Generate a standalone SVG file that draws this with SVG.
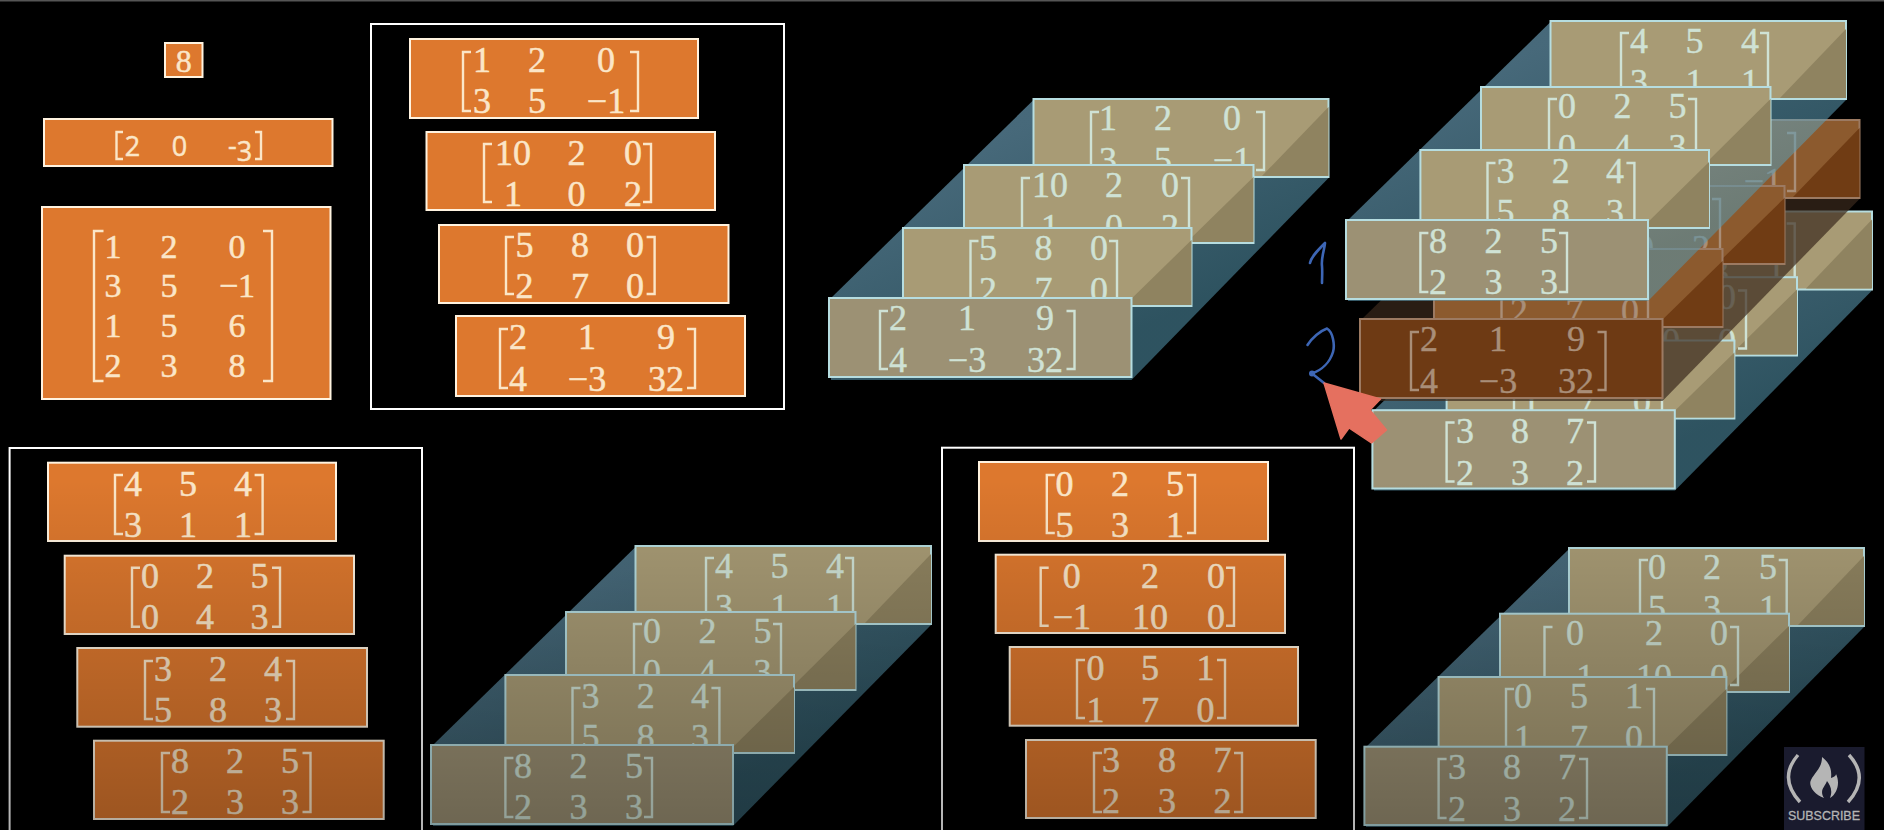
<svg xmlns="http://www.w3.org/2000/svg" xmlns:xlink="http://www.w3.org/1999/xlink" width="1884" height="830" viewBox="0 0 1884 830">
<style>
text{font-family:"Liberation Serif","DejaVu Serif",serif;font-size:36px;text-anchor:middle}
.o rect{fill:#dd782e;stroke:#fff3e0;stroke-width:2}
.o text{fill:#fbe6c8;stroke:#fbe6c8;stroke-width:.5}
.o path{fill:none;stroke:#fbe6c8;stroke-width:2.4}
.frame{fill:none;stroke:#fff;stroke-width:2}
.floor{fill:var(--poly,url(#teal));fill-opacity:var(--po,.55)}
.lit{fill:var(--lit,#a89b75);stroke:var(--st,#b6dde0);stroke-width:2}
.front{fill:var(--front,#9c9174);stroke:var(--st,#b6dde0);stroke-width:2}
.dk{fill:var(--dk,#8f8360)}
.s text{fill:var(--tx,#cfe2d5);stroke:var(--tx,#cfe2d5);stroke-width:.4}
.s path{fill:none;stroke:var(--tx,#cfe2d5);stroke-width:2.4}
.brown{--lit:#8c5a2e;--front:#6e3a14;--dk:#703c14;--st:#9c7a62;--tx:#a98e78;--poly:#3a2a1c;--po:.7}
.hand{fill:none;stroke:#3d66b5;stroke-width:2.6;stroke-linecap:round;stroke-linejoin:round}
.old{font-family:"Open Sans","Liberation Sans",sans-serif;font-size:27px}
.tight{font-size:34px}
</style>
<defs>
<linearGradient id="teal" x1=".25" y1=".2" x2=".7" y2=".75"><stop offset="0" stop-color="#81bfde"/><stop offset="1" stop-color="#5497af"/></linearGradient>
<linearGradient id="shade" gradientUnits="userSpaceOnUse" x1="0" y1="480" x2="0" y2="830"><stop offset="0" stop-color="#000" stop-opacity="0"/><stop offset="1" stop-color="#000" stop-opacity=".3"/></linearGradient>
<g id="stackA" class="s">
<polygon class="floor" points="831,298 1033.5,100 1328.5,178 1131.5,380 831,380"/>
<rect class="lit" x="1033.5" y="99" width="295" height="78"/><polygon class="dk" points="1328.5,107 1328.5,176 1262,176"/>
<path d="M1099,112H1091V170H1099M1256,112H1264V170H1256"/>
<text x="1108" y="130">1</text><text x="1163" y="130">2</text><text x="1232" y="130">0</text><text x="1108" y="172">3</text><text x="1163" y="172">5</text><text x="1232" y="172">−1</text>
<rect class="lit" x="964" y="165" width="289.5" height="78"/><polygon class="dk" points="1253.5,177 1253.5,242 1187,242"/>
<path d="M1030,178H1022V238H1030M1181,178H1189V238H1181"/>
<text x="1050" y="197">10</text><text x="1114" y="197">2</text><text x="1170" y="197">0</text><text x="1050" y="239">1</text><text x="1114" y="239">0</text><text x="1170" y="239">2</text>
<rect class="lit" x="903" y="228" width="288.5" height="78"/><polygon class="dk" points="1191.5,240 1191.5,305 1125,305"/>
<path d="M978.5,241H970.5V300H978.5M1109,241H1117V300H1109"/>
<text x="988" y="260">5</text><text x="1043.5" y="260">8</text><text x="1099" y="260">0</text><text x="988" y="302">2</text><text x="1043.5" y="302">7</text><text x="1099" y="302">0</text>
<rect class="front" x="829" y="298" width="302.5" height="79"/>
<path d="M888,311H880V369H888M1066.5,311H1074.5V369H1066.5"/>
<text x="898" y="330">2</text><text x="967" y="330">1</text><text x="1045" y="330">9</text><text x="898" y="372">4</text><text x="967" y="372">−3</text><text x="1045" y="372">32</text>
</g>
<g id="stackB" class="s">
<polygon class="floor" points="433,745 635.5,547 931,625 733,826 433,826"/>
<rect class="lit" x="635.5" y="546" width="295.5" height="78"/><polygon class="dk" points="931,554 931,623 865,623"/>
<path d="M714,558H706V617H714M845,558H853V617H845"/>
<text x="724" y="578">4</text><text x="779.4" y="578">5</text><text x="835" y="578">4</text><text x="724" y="619">3</text><text x="779.4" y="619">1</text><text x="835" y="619">1</text>
<rect class="lit" x="566" y="612" width="289.5" height="78"/><polygon class="dk" points="855.5,624 855.5,689 790,689"/>
<path d="M642,624H634V683H642M773,624H781V683H773"/>
<text x="652" y="643">0</text><text x="707.4" y="643">2</text><text x="762.6" y="643">5</text><text x="652" y="684">0</text><text x="707.4" y="684">4</text><text x="762.6" y="684">3</text>
<rect class="lit" x="505.4" y="675" width="288.6" height="78"/><polygon class="dk" points="794,687 794,752 728,752"/>
<path d="M580.5,688H572.5V747H580.5M711.4,688H719.4V747H711.4"/>
<text x="590.5" y="707.7">3</text><text x="645.7" y="707.7">2</text><text x="700" y="707.7">4</text><text x="590.5" y="749">5</text><text x="645.7" y="749">8</text><text x="700" y="749">3</text>
<rect class="front" x="431" y="745" width="302" height="79"/>
<path d="M513.4,758H505.4V817H513.4M644,758H652V817H644"/>
<text x="523" y="778">8</text><text x="578.5" y="778">2</text><text x="634" y="778">5</text><text x="523" y="819">2</text><text x="578.5" y="819">3</text><text x="634" y="819">3</text>
</g>
<g id="stackC" class="s">
<polygon class="floor" points="1366,747 1569,549 1864,627 1667,827 1366,827"/>
<rect class="lit" x="1569" y="548" width="295" height="78"/><polygon class="dk" points="1864,556 1864,625 1798,625"/>
<path d="M1648,560H1640V619H1648M1778.7,560H1786.7V619H1778.7"/>
<text x="1657" y="579">0</text><text x="1712" y="579">2</text><text x="1768" y="579">5</text><text x="1657" y="620">5</text><text x="1712" y="620">3</text><text x="1768" y="620">1</text>
<rect class="lit" x="1500" y="613.7" width="289" height="78.3"/><polygon class="dk" points="1789,626 1789,691 1723,691"/>
<path d="M1552.5,627H1544.5V685H1552.5M1730,627H1738V685H1730"/>
<text x="1575" y="645">0</text><text x="1654" y="645">2</text><text x="1719" y="645">0</text><text x="1575" y="689">−1</text><text x="1654" y="689">10</text><text x="1719" y="689">0</text>
<rect class="lit" x="1438.6" y="677" width="287.8" height="78"/><polygon class="dk" points="1726.4,689 1726.4,754 1660,754"/>
<path d="M1514,689H1506V748H1514M1646,689H1654V748H1646"/>
<text x="1523" y="708">0</text><text x="1579" y="708">5</text><text x="1634" y="708">1</text><text x="1523" y="750">1</text><text x="1579" y="750">7</text><text x="1634" y="750">0</text>
<rect class="front" x="1364.4" y="746.7" width="302.4" height="78.3"/>
<path d="M1446.6,759H1438.6V818H1446.6M1579,759H1587V818H1579"/>
<text x="1457" y="779">3</text><text x="1512" y="779">8</text><text x="1567" y="779">7</text><text x="1457" y="821">2</text><text x="1512" y="821">3</text><text x="1567" y="821">2</text>
</g>
</defs>
<rect width="1884" height="830" fill="#000"/>
<rect width="1884" height="1.5" fill="#555"/>

<g id="scalar" class="o"><rect x="165" y="43" width="37.5" height="34"/><text x="183.7" y="71.5" style="font-size:32px">8</text></g>
<g id="vector" class="o"><rect x="44" y="119" width="288.5" height="47"/>
<path d="M123,132H116.5V159H123M255,159H261V132H255"/>
<text class="old" x="132.6" y="156">2</text><text class="old" x="179.6" y="156">0</text><text class="old" x="240" y="155">-<tspan dy="6">3</tspan></text></g>
<g id="matrix" class="o"><rect x="42" y="207" width="288.5" height="192"/>
<path d="M103.5,231H94V381H103.5M263,231H272V381H263"/>
<text class="tight" x="113" y="258">1</text><text class="tight" x="169" y="258">2</text><text class="tight" x="237" y="258">0</text>
<text class="tight" x="113" y="297">3</text><text class="tight" x="169" y="297">5</text><text class="tight" x="237" y="297">−1</text>
<text class="tight" x="113" y="337">1</text><text class="tight" x="169" y="337">5</text><text class="tight" x="237" y="337">6</text>
<text class="tight" x="113" y="377">2</text><text class="tight" x="169" y="377">3</text><text class="tight" x="237" y="377">8</text></g>

<g id="tensor-1" class="o"><rect class="frame" style="fill:none;stroke:#fff" x="371" y="24" width="413" height="385"/>
<rect x="410" y="39" width="288" height="79"/><path d="M471,52H463V111H471M630,52H638V111H630"/>
<text x="482" y="72">1</text><text x="537" y="72">2</text><text x="606" y="72">0</text><text x="482" y="113">3</text><text x="537" y="113">5</text><text x="606" y="113">−1</text>
<rect x="426.5" y="132" width="288.5" height="78"/><path d="M492,144H484V202H492M643,144H651V202H643"/>
<text x="513" y="165">10</text><text x="576.5" y="165">2</text><text x="633" y="165">0</text><text x="513" y="206">1</text><text x="576.5" y="206">0</text><text x="633" y="206">2</text>
<rect x="439" y="225" width="289.5" height="78"/><path d="M514,237H506V294H514M646.6,237H654.6V294H646.6"/>
<text x="524.5" y="257">5</text><text x="580" y="257">8</text><text x="635" y="257">0</text><text x="524.5" y="298">2</text><text x="580" y="298">7</text><text x="635" y="298">0</text>
<rect x="456" y="316" width="289" height="80"/><path d="M508,329H500V388H508M687,329H695V388H687"/>
<text x="518" y="349">2</text><text x="587" y="349">1</text><text x="666" y="349">9</text><text x="518" y="391">4</text><text x="587" y="391">−3</text><text x="666" y="391">32</text>
</g>

<g id="tensor-1-stack"><use href="#stackA" xlink:href="#stackA"/></g>

<g id="combined-stack">
<use href="#stackC" xlink:href="#stackC" transform="translate(8,-336.5)"/>
<use class="brown" href="#stackA" xlink:href="#stackA" transform="translate(531,21)"/>
<use href="#stackB" xlink:href="#stackB" transform="translate(915,-525)"/>
</g>

<g id="tensor-2" class="o"><rect class="frame" style="fill:none;stroke:#fff" x="9.6" y="448" width="412.4" height="400"/>
<rect x="48" y="462.7" width="288" height="78.3"/><path d="M123,475H115V534H123M254.6,475H262.6V534H254.6"/>
<text x="133" y="495.7">4</text><text x="188" y="495.7">5</text><text x="243" y="495.7">4</text><text x="133" y="536.7">3</text><text x="188" y="536.7">1</text><text x="243" y="536.7">1</text>
<rect x="64.7" y="555.7" width="289.3" height="78.3"/><path d="M140,567.7H132V626.7H140M272,567.7H280V626.7H272"/>
<text x="150" y="588">0</text><text x="205" y="588">2</text><text x="259.6" y="588">5</text><text x="150" y="629">0</text><text x="205" y="629">4</text><text x="259.6" y="629">3</text>
<rect x="77.3" y="648" width="289.7" height="78.7"/><path d="M153,661H145V719H153M286,661H294V719H286"/>
<text x="163" y="681">3</text><text x="218" y="681">2</text><text x="273" y="681">4</text><text x="163" y="722">5</text><text x="218" y="722">8</text><text x="273" y="722">3</text>
<rect x="94" y="740.7" width="289.7" height="78.3"/><path d="M170,753H162V812H170M302.5,753H310.5V812H302.5"/>
<text x="180" y="773">8</text><text x="235" y="773">2</text><text x="290" y="773">5</text><text x="180" y="814">2</text><text x="235" y="814">3</text><text x="290" y="814">3</text>
</g>

<g id="tensor-2-stack"><use href="#stackB" xlink:href="#stackB"/></g>

<g id="tensor-3" class="o"><rect class="frame" style="fill:none;stroke:#fff" x="942" y="447.7" width="412" height="400"/>
<rect x="979" y="462" width="289" height="79"/><path d="M1054.8,475H1046.8V533H1054.8M1187,475H1195V533H1187"/>
<text x="1064.5" y="495.7">0</text><text x="1120" y="495.7">2</text><text x="1175" y="495.7">5</text><text x="1064.5" y="537">5</text><text x="1120" y="537">3</text><text x="1175" y="537">1</text>
<rect x="995.7" y="554.7" width="289.3" height="78.3"/><path d="M1048.7,567.7H1040.7V625.7H1048.7M1226,567.7H1234V625.7H1226"/>
<text x="1071.8" y="587.7">0</text><text x="1150" y="587.7">2</text><text x="1216" y="587.7">0</text><text x="1071.8" y="629">−1</text><text x="1150" y="629">10</text><text x="1216" y="629">0</text>
<rect x="1009.7" y="647" width="288.3" height="78.7"/><path d="M1085,660H1077V718H1085M1217,660H1225V718H1217"/>
<text x="1095.5" y="680">0</text><text x="1150" y="680">5</text><text x="1205.6" y="680">1</text><text x="1095.5" y="721.7">1</text><text x="1150" y="721.7">7</text><text x="1205.6" y="721.7">0</text>
<rect x="1026" y="740" width="289.7" height="78"/><path d="M1102,753H1094V812H1102M1234,753H1242V812H1234"/>
<text x="1111" y="772">3</text><text x="1167" y="772">8</text><text x="1222.6" y="772">7</text><text x="1111" y="813">2</text><text x="1167" y="813">3</text><text x="1222.6" y="813">2</text>
</g>

<g id="tensor-3-stack"><use href="#stackC" xlink:href="#stackC"/></g>

<rect id="shade-overlay" y="480" width="1884" height="350" fill="url(#shade)"/>

<g id="pointer">
<path class="hand" d="M1310,263C1311,257 1318,250 1325,243C1324,252 1321,258 1322,266C1322.500,272 1322,278 1322,283"/>
<path class="hand" d="M1307.500,345C1312,338 1320,331 1327,328.500C1333,332 1335,345 1333,352C1330,362 1322,370 1312,373.500L1324,383"/>
<circle cx="1312" cy="373.500" r="3" fill="#3d66b5"/>
<polygon points="1324,383 1380.500,399 1370,410 1386.500,430 1371.500,443 1349,428 1341,439" fill="#e5705f" stroke="#e5705f" stroke-width="1.500" stroke-linejoin="round"/>
</g>

<g id="subscribe-badge">
<rect x="1784" y="747" width="80.500" height="83" fill="#1a1b2e"/>
<path d="M1798,755Q1778,778 1800,802M1849,755Q1870,778 1848,802" fill="none" stroke="#b5b5b5" stroke-width="3.4"/>
<path d="M1824,798C1814,795 1808,785 1811,780C1815,772 1822,768 1822,757C1830,763 1832,770 1831,778C1835,777 1836,775 1836,774C1840,782 1838,793 1830,798C1833,790 1830,785 1827,781C1825,787 1819,790 1824,798Z" fill="#b5b5b5"/>
<text x="1824" y="820" textLength="72" lengthAdjust="spacingAndGlyphs" style="font-family:'Liberation Sans',sans-serif;font-size:13.500px;fill:#b5b5b5;stroke:#b5b5b5;stroke-width:.3">SUBSCRIBE</text>
</g>
</svg>
